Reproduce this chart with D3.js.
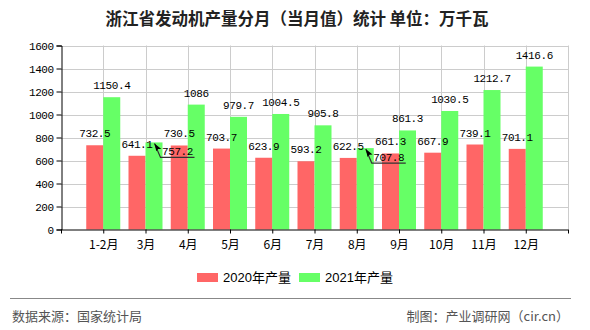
<!DOCTYPE html>
<html><head><meta charset="utf-8">
<script src="https://cdn.jsdelivr.net/npm/d3@7/dist/d3.min.js"></script>
<style>
body{margin:0;background:#fff;}
svg{display:block;}
</style></head>
<body>
<svg id="c" width="590" height="330"></svg>
<script>
const categories = ["1-2月","3月","4月","5月","6月","7月","8月","9月","10月","11月","12月"];
const values2020 = [732.5,641.1,730.5,703.7,623.9,593.2,622.5,661.3,667.9,739.1,701.1];
const values2021 = [1150.4,757.2,1086,979.7,1004.5,905.8,707.8,861.3,1030.5,1212.7,1416.6];
const seriesNames = ["2020年产量","2021年产量"];
const yTicks = [0,200,400,600,800,1000,1200,1400,1600];
const annotated2021 = ["3月","8月"];

(function(){
const colors = ["#ff6666","#66ff66"];
const svg = d3.select("#c");
const mLeft = 61, mRight = 568, mTop = 45.5, mBottom = 229.5;
const cjk = "'Noto Sans CJK SC', sans-serif";
const mono = "'Liberation Mono','DejaVu Sans Mono', monospace";

const xs = d3.scalePoint().domain(["_start", ...categories, "_end"]).range([mLeft, mRight]);
const y = d3.scaleLinear().domain([0,1600]).range([mBottom, mTop]);
const barW = 17;

svg.append("text").attr("x",297).attr("y",25).attr("text-anchor","middle")
  .attr("font-family",cjk).attr("font-size",16.5).attr("font-weight","bold").attr("fill","#222")
  .text("浙江省发动机产量分月（当月值）统计 单位：万千瓦");

const g = svg.append("g");
g.selectAll("line.h").data(yTicks.filter(d=>d>0)).join("line")
  .attr("x1",mLeft).attr("x2",mRight).attr("y1",d=>Math.round(y(d))+0.5).attr("y2",d=>Math.round(y(d))+0.5)
  .attr("stroke","#cccccc").attr("stroke-width",1);
g.selectAll("line.v").data([...categories,"_end"]).join("line")
  .attr("x1",d=>Math.round(xs(d))+0.5).attr("x2",d=>Math.round(xs(d))+0.5)
  .attr("y1",y(1600)).attr("y2",mBottom)
  .attr("stroke","#cccccc").attr("stroke-width",1);

const series = [values2020, values2021];
series.forEach((vals,si)=>{
  svg.append("g").selectAll("rect").data(vals).join("rect")
    .attr("x",(d,i)=>xs(categories[i]) + (si===0 ? -barW : 0))
    .attr("y",d=>y(d)).attr("width",barW).attr("height",d=>mBottom-y(d))
    .attr("fill",colors[si]);
});

const yAxis = d3.axisLeft(y).tickValues(yTicks).tickSize(5).tickPadding(3).tickFormat(d3.format("d"));
const ya = svg.append("g").attr("transform",`translate(${mLeft+0.5},0)`).call(yAxis);
ya.selectAll("text").attr("font-family",mono).attr("font-size",11).attr("letter-spacing","-0.5px").attr("fill","#000");
ya.selectAll("line,path").attr("stroke","#000");

const xAxis = d3.axisBottom(xs).tickValues(["_start",...categories,"_end"]).tickSize(4).tickPadding(5)
  .tickFormat(d=>d.startsWith("_")?"":d);
const xa = svg.append("g").attr("transform",`translate(0,${mBottom})`).call(xAxis);
xa.select("path").attr("d",`M${mLeft},0.5H${mRight}`);
xa.selectAll("text").attr("font-family",cjk).attr("font-size",12).attr("fill","#000").attr("dy","0.9em");
xa.selectAll("line,path").attr("stroke","#000");

const labelG = svg.append("g").attr("font-family",mono).attr("font-size",11).attr("letter-spacing","-0.4px").attr("fill","#000");
series.forEach((vals,si)=>{
  vals.forEach((v,i)=>{
    const cat = categories[i];
    const bx = xs(cat) + (si===0 ? -barW/2 : barW/2);
    if (si===1 && annotated2021.includes(cat)) {
      const tipX = xs(cat)+9, tipY = y(v)+1;
      const elbowX = tipX+6, elbowY = tipY+14;
      svg.append("path").attr("d",`M${tipX},${tipY}L${elbowX},${elbowY}H${elbowX+34}`)
        .attr("fill","none").attr("stroke","#333").attr("stroke-width",1.2);
      svg.append("path").attr("d",`M${tipX},${tipY}l-1,8l2.5,-1.5l3,1z`).attr("fill","#000")
        .attr("transform",`rotate(-20,${tipX},${tipY})`);
      labelG.append("text").attr("x",elbowX+17).attr("y",elbowY-2).attr("text-anchor","middle").text(v);
    } else {
      labelG.append("text").attr("x",bx).attr("y",y(v)-8).attr("text-anchor","middle").text(v);
    }
  });
});

const lg = svg.append("g");
const legX = [197, 299];
seriesNames.forEach((n,i)=>{
  lg.append("rect").attr("x",legX[i]).attr("y",273).attr("width",21).attr("height",9).attr("fill",colors[i]);
  lg.append("text").attr("x",legX[i]+26).attr("y",282).attr("font-family","'Liberation Sans','Noto Sans CJK SC',sans-serif")
    .attr("font-size",13).attr("fill","#000").text(n);
});

svg.append("line").attr("x1",10).attr("x2",571).attr("y1",298.5).attr("y2",298.5).attr("stroke","#888").attr("stroke-width",1);
svg.append("text").attr("x",12).attr("y",321).attr("font-family",cjk).attr("font-size",13).attr("fill","#555").text("数据来源：国家统计局");
svg.append("text").attr("x",569).attr("y",321).attr("text-anchor","end").attr("font-family",cjk).attr("font-size",13).attr("fill","#555").text("制图：产业调研网（cir.cn）");
})();
</script>
</body></html>
